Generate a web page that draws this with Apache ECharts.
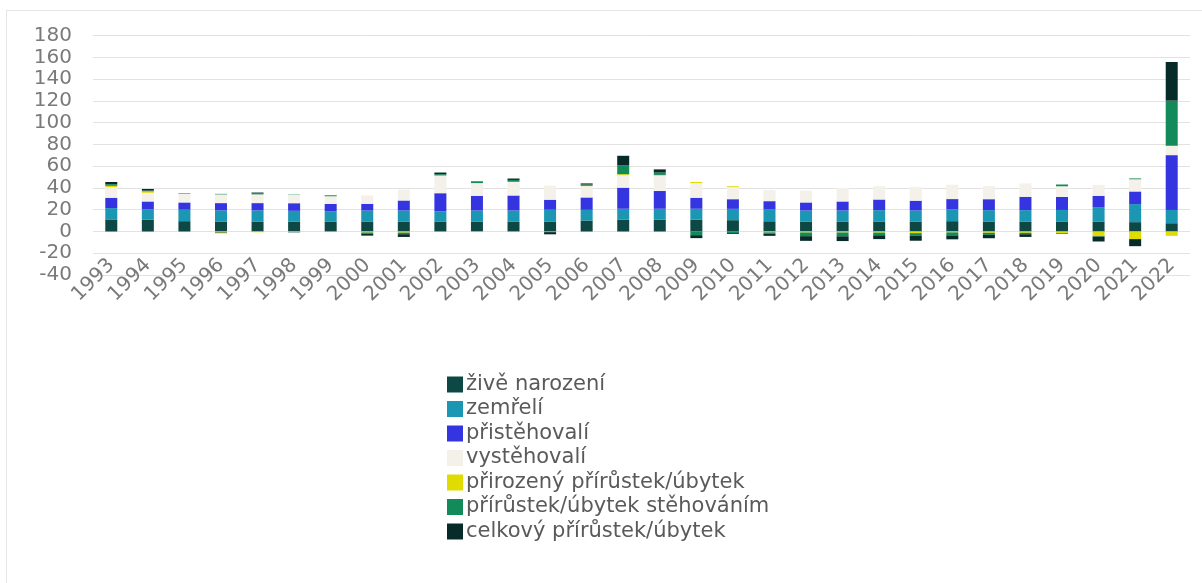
<!DOCTYPE html>
<html>
<head>
<meta charset="utf-8">
<script src="https://cdn.jsdelivr.net/npm/echarts@6/dist/echarts.min.js"></script>
<style>
html,body{margin:0;padding:0;background:#fff;}
#chart{position:absolute;left:0;top:0;width:1202px;height:583px;}
#frame{position:absolute;left:6px;top:10px;right:0;bottom:0;border-left:1px solid #e6e6e6;border-top:1px solid #e6e6e6;pointer-events:none;}
</style>
</head>
<body>
<div id="chart"></div>
<div id="frame"></div>
<script>
const years = ['1993','1994','1995','1996','1997','1998','1999','2000','2001','2002','2003','2004','2005','2006','2007','2008','2009','2010','2011','2012','2013','2014','2015','2016','2017','2018','2019','2020','2021','2022'];
const zivenarozeni = [11.1,10.8,9.5,8.9,9.2,9.2,9.2,9.2,9.2,9.2,9.2,9.2,9.2,10.1,10.8,10.8,10.8,10.4,9.4,9.2,9.2,9.2,9.2,9.5,9.2,9.2,9.2,9.2,8.6,7.6];
const zemreli = [10.4,9.5,10.5,10.5,10.2,9.8,9.2,10.1,10.1,9.4,10.1,10.1,10.8,9.8,10.1,10.1,10.1,10.4,10.8,10.1,10.1,10.4,10.1,10.8,10.4,10.4,10.6,13.2,16.6,12.2];
const pristehovali = [9.5,7.3,6.7,6.7,6.7,7.0,7.0,6.1,9.2,16.6,13.5,13.8,9.2,11.4,19.4,16.3,10.1,8.9,7.7,7.4,8.3,9.8,9.0,9.5,10.1,12.3,12.0,10.4,11.6,50.4];
const vystehovali = [9.8,8.0,8.0,8.0,8.0,7.7,7.0,7.7,10.1,16.3,11.7,12.6,12.9,10.4,11.4,14.1,13.5,11.1,10.1,10.8,12.3,12.3,12.6,13.2,12.0,12.3,9.8,10.1,11.2,8.6];
const prirozeny = [1.2,1.3,0.3,-1.0,-0.7,-0.5,-0.3,-0.9,-1.0,-0.2,-0.5,-0.3,-0.3,0.3,1.0,0.7,1.0,0.8,-0.8,-0.9,-0.9,-1.0,-1.5,-0.8,-1.2,-1.2,-1.5,-4.3,-7.0,-4.0];
const stehovanim = [1.5,0.7,0.2,0.5,1.2,0.3,0.6,-1.0,-1.5,1.2,1.4,1.7,-0.3,1.2,8.3,2.2,-3.4,-1.4,-1.2,-3.4,-3.5,-2.5,-2.5,-2.8,-1.9,-1.3,1.6,-0.3,0.8,41.5];
const celkovy = [2.0,1.5,0.2,-0.5,0.5,-0.3,0.3,-1.9,-2.5,1.5,0.3,1.3,-2.0,1.0,8.6,2.9,-2.7,-0.8,-2.0,-4.3,-4.4,-3.5,-4.5,-3.6,-3.1,-2.5,-0.5,-4.6,-6.5,35.5];
const yTicks = {min:-40, max:180, interval:20};

const names = ['živě narození','zemřelí','přistěhovalí','vystěhovalí','přirozený přírůstek/úbytek','přírůstek/úbytek stěhováním','celkový přírůstek/úbytek'];
const colors = ['#0d4845','#1b96b3','#3434e0','#f4f0ea','#e0db00','#138a5a','#072b28'];
const datas = [zivenarozeni,zemreli,pristehovali,vystehovali,prirozeny,stehovanim,celkovy];

const font = 'DejaVu Sans, sans-serif';
const chart = echarts.init(document.getElementById('chart'), null, {renderer:'canvas'});
chart.setOption({
  animation:false,
  color:colors,
  grid:{left:93, right:12, top:35.7, bottom:308, containLabel:false},
  legend:{
    orient:'vertical', left:447, top:374, padding:0,
    itemWidth:16, itemHeight:16, itemGap:3.5,
    icon:'rect',
    textStyle:{fontFamily:font, fontSize:21, color:'#5a5a5a', padding:[0,0,0,-2]},
    data:names
  },
  xAxis:{
    type:'category', data:years,
    axisLine:{show:false}, axisTick:{show:false},
    axisLabel:{rotate:45, margin:-13, fontFamily:font, fontSize:20, color:'#7a7a7a', interval:0}
  },
  yAxis:{
    type:'value', min:yTicks.min, max:yTicks.max, interval:yTicks.interval,
    axisLine:{show:false}, axisTick:{show:false},
    axisLabel:{margin:21, fontFamily:font, fontSize:20, color:'#7a7a7a', padding:[3,0,0,0]},
    splitLine:{lineStyle:{color:'#e2e2e2', width:1}}
  },
  series: names.map((n,i)=>({
    name:n, type:'bar', stack:'all', barWidth:12,
    itemStyle:{color:colors[i]},
    data:datas[i]
  }))
});
</script>
</body>
</html>
